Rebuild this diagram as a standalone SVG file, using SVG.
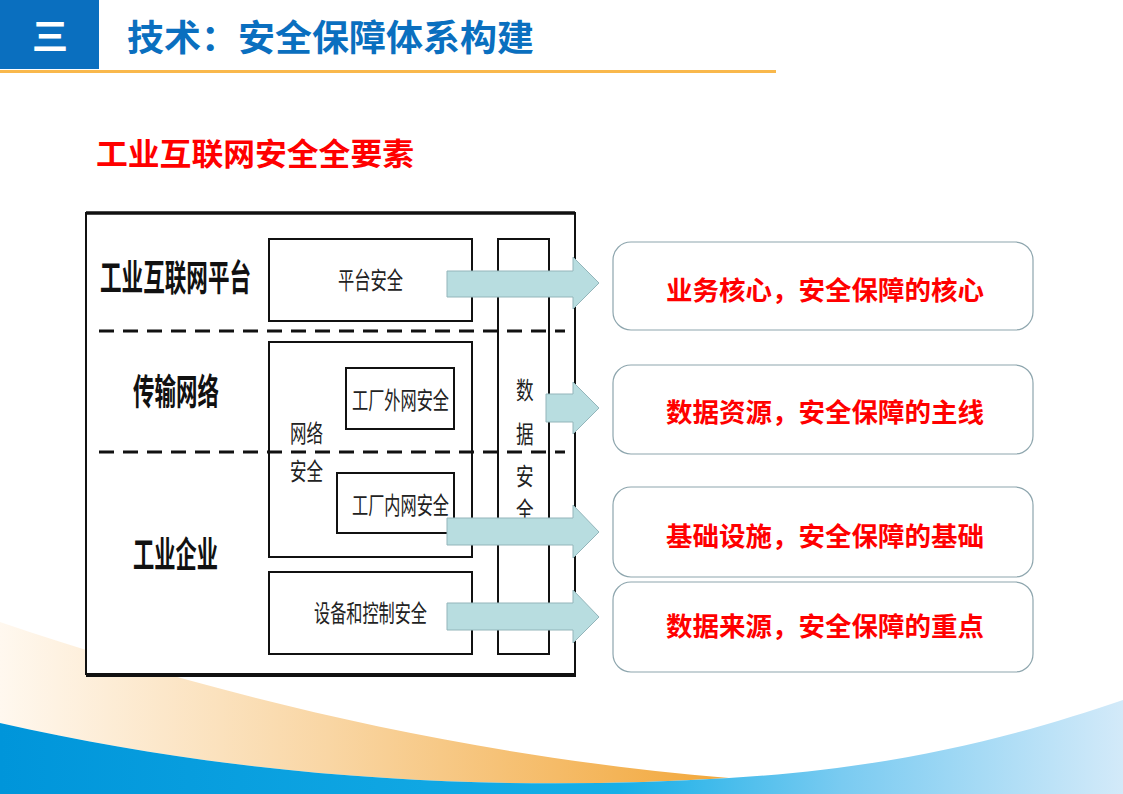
<svg xmlns="http://www.w3.org/2000/svg" width="1123" height="794" viewBox="0 0 1123 794">
<defs>
<linearGradient id="gOrange" x1="0" y1="0" x2="1" y2="0">
<stop offset="0" stop-color="#FFF8EF"/>
<stop offset="0.45" stop-color="#F9D6A4"/>
<stop offset="1" stop-color="#F2A73A"/>
</linearGradient>
<linearGradient id="gBlue" x1="0" y1="0" x2="1" y2="0">
<stop offset="0" stop-color="#0095DA"/>
<stop offset="0.55" stop-color="#17AFE7"/>
<stop offset="0.75" stop-color="#7ACBF1"/>
<stop offset="1" stop-color="#D3EAF9"/>
</linearGradient>
<style>
.bx{fill:#fff;stroke:#111;stroke-width:2}
.dash{stroke:#111;stroke-width:3;stroke-dasharray:15 9;fill:none}
.lbl{font-family:"Noto Sans CJK SC",sans-serif;font-weight:700;fill:#111;font-size:36px}
.sm{font-family:"Noto Sans CJK SC",sans-serif;font-weight:400;fill:#222;font-size:22px}
.arr{fill:#B8DDE0;stroke:#93B5BA;stroke-width:1}
.rb{fill:#fff;stroke:#8EA6AE;stroke-width:1.2}
.rt{font-family:"Noto Sans CJK SC",sans-serif;font-weight:700;fill:#FF0000;font-size:26.5px;text-anchor:middle}
</style>
</defs>
<rect width="1123" height="794" fill="#fff"/>
<g id="background">
<path d="M0,622 C200,690 450,755 729,778 C500,792 250,780 0,723 Z" fill="url(#gOrange)"/>
<path d="M0,723 C250,780 500,792 729,778 C900,768 1020,735 1123,700 L1123,794 L0,794 Z" fill="url(#gBlue)"/>
</g>
<g id="header">
<rect x="0" y="0" width="99" height="69" fill="#0A6FBF"/>
<text x="50" y="50" text-anchor="middle" font-family="Noto Sans CJK SC,sans-serif" font-weight="700" font-size="36" fill="#fff">三</text>
<text x="127" y="51" font-family="Noto Sans CJK SC,sans-serif" font-weight="700" font-size="36" fill="#0A6FBF" textLength="407" lengthAdjust="spacingAndGlyphs">技术：安全保障体系构建</text>
<rect x="0" y="70" width="776" height="3" fill="#F9B84C"/>
</g>
<g id="subtitle">
<text x="96" y="165" font-family="Noto Sans CJK SC,sans-serif" font-weight="700" font-size="31" fill="#FF0000" textLength="318" lengthAdjust="spacingAndGlyphs">工业互联网安全全要素</text>
</g>
<g id="outer-frame">
<rect x="86" y="213" width="489" height="461" class="bx"/>
<line x1="86" y1="213" x2="575" y2="213" stroke="#111" stroke-width="3.5"/>
<line x1="86" y1="675" x2="576" y2="675" stroke="#111" stroke-width="4"/>
</g>
<g id="layer-labels">
<text class="lbl" transform="translate(100,291) scale(0.6,1)">工业互联网平台</text>
<text class="lbl" transform="translate(133,405) scale(0.597,1)">传输网络</text>
<text class="lbl" transform="translate(133,568) scale(0.59,1)">工业企业</text>
</g>
<g id="platform-security">
<rect x="269" y="239" width="203" height="82" class="bx"/>
<text class="sm" transform="translate(338,289) scale(0.74,1.1)">平台安全</text>
</g>
<g id="network-security">
<rect x="269" y="342" width="203" height="215" class="bx"/>
<text class="sm" transform="translate(290,442) scale(0.75,1.1)">网络</text>
<text class="sm" transform="translate(290,480) scale(0.75,1.1)">安全</text>
</g>
<g id="external-network">
<rect x="346" y="368" width="108" height="61" class="bx" stroke-width="1.5"/>
<text class="sm" transform="translate(352,409) scale(0.735,1.1)">工厂外网安全</text>
</g>
<g id="internal-network">
<rect x="337" y="473" width="117" height="60" class="bx" stroke-width="1.5"/>
<text class="sm" transform="translate(352,514) scale(0.735,1.1)">工厂内网安全</text>
</g>
<g id="device-control">
<rect x="269" y="572" width="203" height="82" class="bx"/>
<text class="sm" transform="translate(314,622) scale(0.734,1.1)">设备和控制安全</text>
</g>
<g id="data-security">
<rect x="498" y="239" width="51" height="415" class="bx"/>
<g class="sm">
<text transform="translate(516,399) scale(0.8,1.1)">数</text>
<text transform="translate(516,443) scale(0.8,1.1)">据</text>
<text transform="translate(516,485) scale(0.8,1.1)">安</text>
<text transform="translate(516,519) scale(0.8,1.1)">全</text>
</g>
</g>
<g id="dividers">
<line x1="99" y1="331" x2="565" y2="331" class="dash"/>
<line x1="99" y1="452" x2="565" y2="452" class="dash"/>
</g>
<g id="connectors">
<polygon class="arr" points="447,271 573,271 573,257 599,283 573,309 573,297 447,297"/>
<polygon class="arr" points="546,394 573,394 573,382 599,408 573,434 573,422 546,422"/>
<polygon class="arr" points="447,518 573,518 573,505 599,532 573,558 573,545 447,545"/>
<polygon class="arr" points="447,603 573,603 573,590 599,617 573,643 573,630 447,630"/>
</g>
<g id="box-core">
<rect x="613" y="242" width="420" height="88" rx="18" class="rb"/>
<text x="825" y="300" class="rt">业务核心，安全保障的核心</text>
</g>
<g id="box-data">
<rect x="613" y="365" width="420" height="89" rx="18" class="rb"/>
<text x="825" y="422" class="rt">数据资源，安全保障的主线</text>
</g>
<g id="box-infra">
<rect x="613" y="487" width="420" height="90" rx="18" class="rb"/>
<text x="825" y="546" class="rt">基础设施，安全保障的基础</text>
</g>
<g id="box-source">
<rect x="613" y="582" width="420" height="90" rx="18" class="rb"/>
<text x="825" y="636" class="rt">数据来源，安全保障的重点</text>
</g>
</svg>
